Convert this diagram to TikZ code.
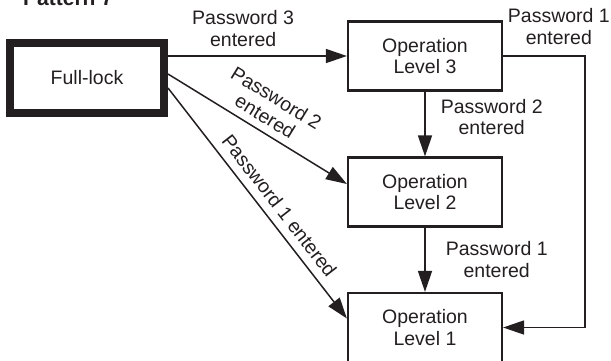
\documentclass[tikz,border=0pt]{standalone}
\usepackage{fontspec}
\setmainfont{Liberation Sans}
\usetikzlibrary{arrows.meta}
\definecolor{ink}{HTML}{231F20}
\begin{document}
\begin{tikzpicture}[x=1pt,y=-1pt,
  font=\fontsize{19.5}{21.5}\selectfont,
  every node/.style={text=ink},
  box/.style={draw=ink, line width=2.2pt, minimum width=154pt, minimum height=69pt, align=center, inner sep=0pt},
  conn/.style={draw=ink, line width=1.5pt, -{Triangle[length=21pt,width=14pt]}},
  lbl/.style={align=center, inner sep=2pt}]
\useasboundingbox (0,0) rectangle (611,360);
\node[anchor=base west, font=\bfseries\fontsize{21}{24}\selectfont, inner sep=0pt] (title) at (23,5) {Pattern 7};
\node[box, line width=8pt, minimum height=70pt] (fl) at (87,78) {Full-lock};
\node[box] (l3) at (425,56) {Operation\\Level 3};
\node[box] (l2) at (425,192) {Operation\\Level 2};
\node[box] (l1) at (425,327.5) {Operation\\Level 1};
\draw[conn] (fl.east |- l3.west) -- node[lbl, above=7pt, pos=0.42] (t3) {Password 3\\entered} (l3.west);
\draw[conn] ([yshift=4pt]fl.east) -- node[lbl, above=5pt, sloped, midway] (t2) {Password 2\\entered} ([yshift=8pt]l2.west);
\draw[conn] ([yshift=-10pt]fl.east) -- node[lbl, above=6pt, sloped, pos=0.553] (t1) {Password 1 entered} ([yshift=9pt]l1.west);
\draw[conn] (l3.south) -- node[lbl, right=13pt, pos=0.39] (t32) {Password 2\\entered} (l2.north);
\draw[conn] (l2.south) -- node[lbl, right=18pt, midway] (t21) {Password 1\\entered} (l1.north);
\draw[conn] (l3.east) -- node[lbl, above=9pt, pos=0.68] (t31) {Password 1\\entered} ++(82,0) |- (l1.east);
\end{tikzpicture}
\end{document}
